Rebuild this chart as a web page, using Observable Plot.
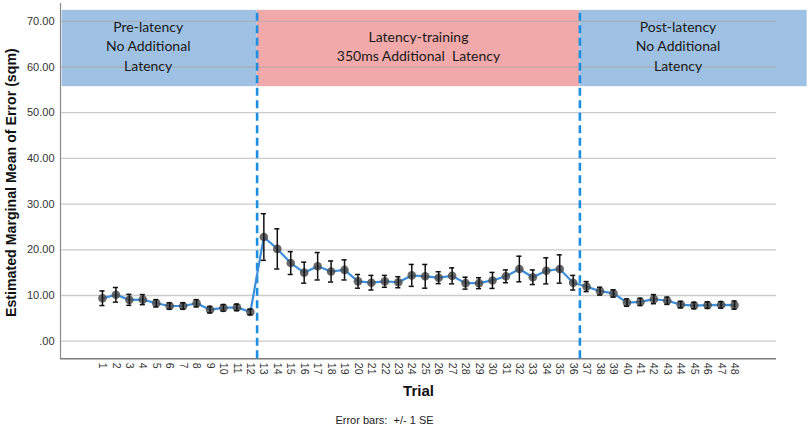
<!DOCTYPE html>
<html>
<head>
<meta charset="utf-8">
<script src="https://cdn.jsdelivr.net/npm/d3@7"></script>
<script src="https://cdn.jsdelivr.net/npm/@observablehq/plot@0.6"></script>
<style>
  html, body { margin: 0; padding: 0; background: #fff; }
  #chart svg { display: block; }
</style>
</head>
<body>
<div id="chart"></div>
<script>
// ---- data ----
const trials = d3.range(1, 49);
const means = [
  9.4, 10.15, 9.05, 9.1, 8.3, 7.7, 7.7, 8.3, 6.9, 7.3, 7.4, 6.4,
  22.8, 20.2, 17.1, 15.0, 16.4, 15.25, 15.6, 13.1, 12.8, 13.1, 12.9, 14.4, 14.2, 13.9,
  14.3, 12.7, 12.7, 13.3, 14.2, 15.8, 14.0, 15.4, 15.8, 12.8,
  11.95, 10.95, 10.45, 8.45, 8.6, 9.2, 8.85, 8.0, 7.8, 7.9, 7.95, 7.9
];
const se = [
  1.6, 1.6, 1.2, 1.1, 0.8, 0.7, 0.7, 0.8, 0.7, 0.7, 0.7, 0.6,
  5.1, 4.4, 2.5, 2.3, 3.0, 2.3, 2.2, 1.5, 1.6, 1.3, 1.2, 2.4, 2.6, 1.3,
  1.75, 1.3, 1.2, 1.75, 1.4, 2.8, 1.6, 2.85, 3.1, 1.6,
  1.1, 0.85, 0.8, 0.8, 0.8, 1.0, 0.8, 0.7, 0.7, 0.7, 0.7, 0.9
];
const yTicks = [0, 10, 20, 30, 40, 50, 60, 70];
const phaseLabels = ["Pre-latency\nNo Additional\nLatency", "Latency-training\n350ms Additional  Latency", "Post-latency\nNo Additional\nLatency"];
const phaseStart = [-2.0, 12.5, 36.5];
const phaseEnd = [12.5, 36.5, 53.4];
const phaseLabelX = [4.4, 24.5, 43.8];
const phaseColors = ["#9fc1e3", "#f2a9a9", "#9fc1e3"];
const boundaries = [12.5, 36.5];

const rows = trials.map((t, i) => ({trial: t, mean: means[i], se: se[i]}));
const phases = phaseLabels.map((l, i) => ({label: l, x1: phaseStart[i], x2: phaseEnd[i], lx: phaseLabelX[i], color: phaseColors[i]}));

const yMin = -3.85, yMax = 73.9;
const boxLo = 55.7, boxHi = 72.4;
const font = "Liberation Sans, Arial, sans-serif";

const chart = Plot.plot({
  width: 809,
  height: 432,
  marginLeft: 60,
  marginRight: 33,
  marginTop: 3,
  marginBottom: 73.7,
  style: {fontFamily: font, fontSize: "11px", color: "#333", background: "#fff"},
  x: {domain: [-2.12, 51.12], axis: null},
  y: {domain: [yMin, yMax], axis: null},
  marks: [
    // phase boxes
    Plot.rectY(phases, {x1: "x1", x2: "x2", y1: boxLo, y2: boxHi, fill: "color"}),
    // grid lines
    Plot.ruleY(yTicks, {stroke: "#a9a9a9", strokeOpacity: 0.6, strokeWidth: 1.3}),
    // phase labels
    Plot.text(phases, {x: "lx", y: (boxLo + boxHi) / 2 + 0.75, text: "label", fontSize: 14, lineHeight: 1.42, fill: "#1a1a1a", fontFamily: "Lato, 'Open Sans', sans-serif"}),
    // axes lines
    Plot.ruleX([-2.12], {y1: yMin, y2: yMax, stroke: "#8a8a8a", strokeWidth: 1.2}),
    Plot.ruleY([yMin], {x1: -2.12, x2: 51.12, stroke: "#7a7a7a", strokeWidth: 1.5}),
    // y tick labels
    Plot.text(yTicks, {x: -2.12, y: d => d, text: d => d === 0 ? ".00" : d.toFixed(2), textAnchor: "end", dx: -6, fontSize: 11, fill: "#333"}),
    // x tick labels
    Plot.text(trials, {x: d => d, y: yMin, text: d => String(d), rotate: 90, textAnchor: "start", lineAnchor: "middle", dy: 4, fontSize: 10.5, fill: "#333"}),
    // phase boundaries
    Plot.ruleX(boundaries, {y1: yMin, y2: boxHi, stroke: "#1d8fe1", strokeWidth: 2.6, strokeDasharray: "8,4.5"}),
    // line
    Plot.line(rows, {x: "trial", y: "mean", stroke: "#3b8fdb", strokeWidth: 2.2}),
    // points
    Plot.dot(rows, {x: "trial", y: "mean", r: 4.3, fill: "#4d4d4d", fillOpacity: 0.85}),
    // error bars
    Plot.ruleX(rows, {x: "trial", y1: d => d.mean - d.se, y2: d => d.mean + d.se, stroke: "#111", strokeWidth: 1.5}),
    Plot.ruleY(rows, {y: d => d.mean + d.se, x1: d => d.trial - 0.19, x2: d => d.trial + 0.19, stroke: "#111", strokeWidth: 1.5}),
    Plot.ruleY(rows, {y: d => d.mean - d.se, x1: d => d.trial - 0.19, x2: d => d.trial + 0.19, stroke: "#111", strokeWidth: 1.5}),
    // axis titles
    Plot.text(["Estimated Marginal Mean of Error (sqm)"], {frameAnchor: "left", rotate: -90, textAnchor: "middle", dx: -49, dy: 1.5, fontSize: 14.2, fontWeight: "bold", fill: "#111"}),
    Plot.text(["Trial"], {frameAnchor: "bottom", dy: 37, fontSize: 15, fontWeight: "bold", fill: "#111"}),
    Plot.text(["Error bars:  +/- 1 SE"], {frameAnchor: "bottom", dx: -34, dy: 65.5, fontSize: 11, fill: "#222"})
  ]
});
document.getElementById("chart").appendChild(chart);
</script>
</body>
</html>
